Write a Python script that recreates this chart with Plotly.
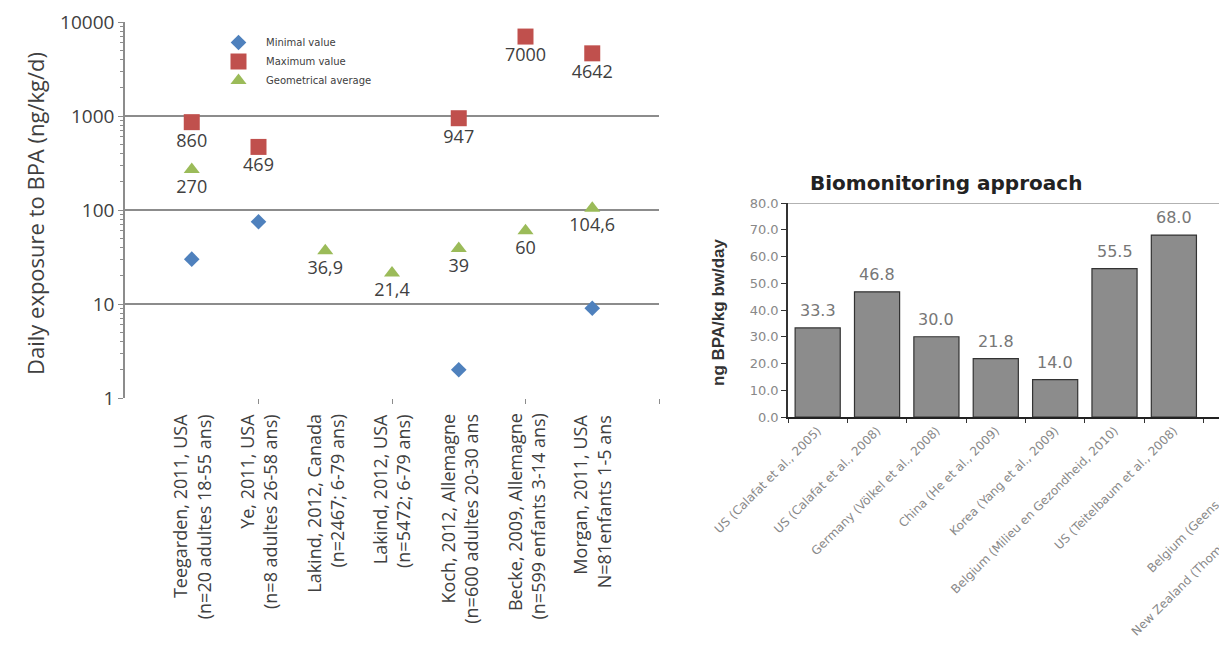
import plotly.graph_objects as go

W, H = 1219, 649

# ---------------- data: left chart ----------------
studies = [
    "Teegarden, 2011, USA<br>(n=20 adultes 18-55 ans)",
    "Ye, 2011, USA<br>(n=8 adultes 26-58 ans)",
    "Lakind, 2012, Canada<br>(n=2467; 6-79 ans)",
    "Lakind, 2012, USA<br>(n=5472; 6-79 ans)",
    "Koch, 2012, Allemagne<br>(n=600 adultes 20-30 ans",
    "Becke, 2009, Allemagne<br>(n=599 enfants 3-14 ans)",
    "Morgan, 2011, USA<br>N=81enfants 1-5 ans",
]
min_values = [30, 75, None, None, 2, None, 9]
max_values = [860, 469, None, None, 947, 7000, 4642]
max_labels = ["860", "469", "", "", "947", "7000", "4642"]
geo_values = [270, None, 36.9, 21.4, 39, 60, 104.6]
geo_labels = ["270", "", "36,9", "21,4", "39", "60", "104,6"]
y_ticks_left = [1, 10, 100, 1000, 10000]
y_ticktext_left = ["1", "10", "100", "1000", "10000"]

# ---------------- data: right chart ----------------
bio_sources = [
    "US (Calafat et al., 2005)",
    "US (Calafat et al., 2008)",
    "Germany (Völkel et al., 2008)",
    "China (He et al., 2009)",
    "Korea (Yang et al., 2009)",
    "Belgium (Milieu en Gezondheid, 2010)",
    "US (Teitelbaum et al., 2008)",
]
bio_values = [33.3, 46.8, 30.0, 21.8, 14.0, 55.5, 68.0]
bio_hidden = ["Belgium (Geens et al., 2011)", "New Zealand (Thomson et al., 2003)"]


def px(x):
    return x / W


def py(y):
    return 1 - y / H


fig = go.Figure()
idx = list(range(len(studies)))

fig.add_trace(go.Scatter(
    x=idx, y=min_values, mode="markers", name="Minimal value",
    marker=dict(symbol="diamond", size=12, color="#4f81bd"),
    xaxis="x", yaxis="y"))
fig.add_trace(go.Scatter(
    x=idx, y=max_values, mode="markers+text", name="Maximum value",
    text=max_labels, textposition="bottom center",
    textfont=dict(family="Open Sans", size=18, color="#404040"),
    marker=dict(symbol="square", size=16, color="#c0504d"),
    xaxis="x", yaxis="y"))
fig.add_trace(go.Scatter(
    x=idx, y=geo_values, mode="markers+text", name="Geometrical average",
    text=geo_labels, textposition="bottom center",
    textfont=dict(family="Open Sans", size=18, color="#404040"),
    marker=dict(symbol="triangle-up", size=14, color="#9bbb59"),
    xaxis="x", yaxis="y"))

fig.add_trace(go.Bar(
    x=bio_sources, y=bio_values, marker=dict(color="#8c8c8c", line=dict(color="#333333", width=1.2)),
    showlegend=False, xaxis="x2", yaxis="y2"))

minor_y = []
for dec in [1, 10, 100, 1000]:
    minor_y += [dec * k for k in range(2, 10)]

annotations = []
# left x labels
for i, s in enumerate(studies):
    annotations.append(dict(
        x=i, xref="x", y=py(412), yref="paper", text=s, showarrow=False,
        textangle=-90, xanchor="center", yanchor="top", align="right",
        font=dict(family="Open Sans", size=18, color="#404040")))
# left y title
annotations.append(dict(
    x=px(35), y=py(214), xref="paper", yref="paper", text="Daily exposure to BPA (ng/kg/d)",
    showarrow=False, textangle=-90, xanchor="center", yanchor="middle",
    font=dict(family="Open Sans", size=22, color="#404040")))
# right title
annotations.append(dict(
    x=px(946), y=py(183), xref="paper", yref="paper", text="<b>Biomonitoring approach</b>",
    showarrow=False, xanchor="center", yanchor="middle",
    font=dict(family="DejaVu Sans", size=20, color="#222222")))
# right y title
annotations.append(dict(
    x=px(718), y=py(312), xref="paper", yref="paper", text="<b>ng BPA/kg bw/day</b>",
    showarrow=False, textangle=-90, xanchor="center", yanchor="middle",
    font=dict(family="Liberation Sans", size=17, color="#333333")))
# bar value labels
for s, v in zip(bio_sources, bio_values):
    annotations.append(dict(
        x=s, y=v, xref="x2", yref="y2", text=f"{v:.1f}", showarrow=False,
        yanchor="bottom", yshift=6, font=dict(family="DejaVu Sans", size=16, color="#777777")))
# partially visible labels beyond right edge
annotations.append(dict(
    x=px(1142), y=py(578), xref="paper", yref="paper", text=bio_hidden[0], showarrow=False,
    textangle=-45, xanchor="left", yanchor="bottom",
    font=dict(family="DejaVu Sans", size=12, color="#888888")))
annotations.append(dict(
    x=px(1126), y=py(642), xref="paper", yref="paper", text=bio_hidden[1], showarrow=False,
    textangle=-45, xanchor="left", yanchor="bottom",
    font=dict(family="DejaVu Sans", size=12, color="#888888")))

fig.update_layout(
    width=W, height=H, margin=dict(l=0, r=0, t=0, b=0, pad=0), autosize=False,
    paper_bgcolor="white", plot_bgcolor="white",
    showlegend=True,
    legend=dict(x=px(211), y=py(28), xanchor="left", yanchor="top", itemwidth=45,
                font=dict(family="DejaVu Sans", size=10, color="#404040"),
                bgcolor="rgba(0,0,0,0)", tracegroupgap=0),
    xaxis=dict(domain=[px(125), px(659)], range=[-1, 7], showgrid=False, zeroline=False,
               showticklabels=False, ticks="", showline=False, automargin=False,
               minor=dict(tickmode="array", tickvals=[1, 3, 5, 7], ticks="outside", ticklen=5,
                          tickcolor="#8c8c8c", showgrid=False)),
    yaxis=dict(domain=[py(398), py(22)], type="log", range=[0, 4], automargin=False,
               tickvals=y_ticks_left, ticktext=y_ticktext_left,
               showgrid=True, gridcolor="#8c8c8c", gridwidth=2, zeroline=False,
               showline=True, linecolor="#8c8c8c", linewidth=1.5,
               ticks="outside", ticklen=5, tickcolor="#8c8c8c",
               tickfont=dict(family="Open Sans", size=19, color="#404040"),
               minor=dict(tickmode="array", tickvals=minor_y, ticks="outside", ticklen=3,
                          tickcolor="#8c8c8c", showgrid=False)),
    xaxis2=dict(domain=[px(788), 1.0], range=[-0.5, 6.76], type="category", automargin=False,
                showgrid=False, zeroline=False, showline=True, linecolor="#222222", linewidth=2,
                ticks="outside", ticklen=4, tickcolor="#333333", tickson="boundaries",
                tickangle=-45, tickfont=dict(family="DejaVu Sans", size=12, color="#888888"),
                anchor="y2"),
    yaxis2=dict(domain=[py(417), py(203)], range=[0, 80], dtick=10, tickformat=".1f", automargin=False,
                showgrid=False, zeroline=False, showline=True, linecolor="#333333", linewidth=1.5,
                ticks="outside", ticklen=5, tickcolor="#333333",
                tickfont=dict(family="DejaVu Sans", size=13, color="#888888"),
                anchor="x2"),
    bargap=0.24,
    annotations=annotations,
    shapes=[dict(type="line", xref="paper", yref="y2", x0=px(788), x1=1.0, y0=80, y1=80,
                 line=dict(color="#999999", width=1.5))],
)

fig.write_html("out.html", config={"displayModeBar": False},
               post_script="document.body.style.margin='0';document.body.style.overflow='hidden';")
